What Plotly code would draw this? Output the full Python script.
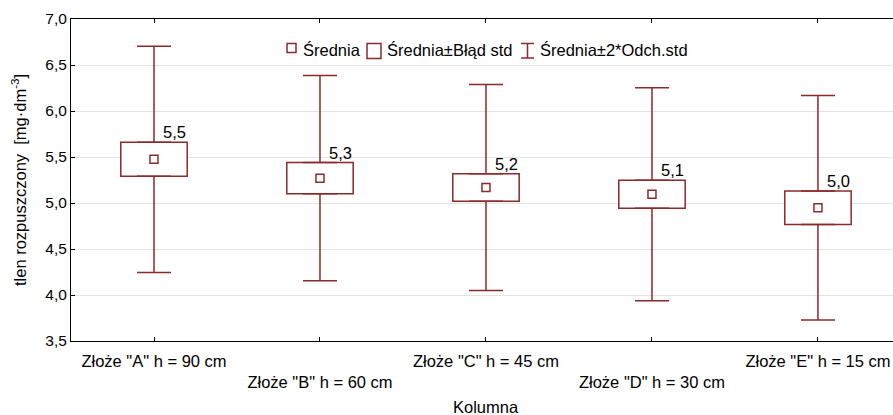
import plotly.graph_objects as go

# ---- data ----
categories = ['Złoże "A" h = 90 cm', 'Złoże "B" h = 60 cm', 'Złoże "C" h = 45 cm',
              'Złoże "D" h = 30 cm', 'Złoże "E" h = 15 cm']
means = [5.475, 5.27, 5.168, 5.095, 4.948]
std_err = [0.185, 0.17, 0.15, 0.152, 0.183]
std_dev = [0.615, 0.558, 0.56, 0.579, 0.61]
mean_labels = ["5,5", "5,3", "5,2", "5,1", "5,0"]
y_ticks = [3.5, 4.0, 4.5, 5.0, 5.5, 6.0, 6.5, 7.0]

C = "#8B2A2A"
FONT = "Liberation Sans, Arial, sans-serif"
FS = 16.5

xs = list(range(len(categories)))
box_lo = [m - s for m, s in zip(means, std_err)]
box_hi = [m + s for m, s in zip(means, std_err)]
whisk_ext = [2 * d - s for d, s in zip(std_dev, std_err)]

# alternate tick labels on two rows
tick_text = [t if i % 2 == 0 else "<br>" + t for i, t in enumerate(categories)]

fig = go.Figure()

fig.add_trace(go.Bar(
    x=xs, y=[2 * s for s in std_err], base=box_lo, width=0.4,
    marker=dict(color="white", line=dict(color=C, width=1.5)),
    showlegend=False, hoverinfo="skip"))

fig.add_trace(go.Scatter(
    x=xs, y=box_hi, mode="markers",
    marker=dict(size=1, color="rgba(0,0,0,0)"),
    error_y=dict(type="data", symmetric=False, array=whisk_ext,
                 arrayminus=[0] * len(xs), color=C, thickness=1.5, width=17),
    showlegend=False, hoverinfo="skip"))

fig.add_trace(go.Scatter(
    x=xs, y=box_lo, mode="markers",
    marker=dict(size=1, color="rgba(0,0,0,0)"),
    error_y=dict(type="data", symmetric=False, array=[0] * len(xs),
                 arrayminus=whisk_ext, color=C, thickness=1.5, width=17),
    showlegend=False, hoverinfo="skip"))

fig.add_trace(go.Scatter(
    x=xs, y=means, mode="markers",
    marker=dict(symbol="square-open", size=8, color=C, line=dict(width=1.5, color=C)),
    showlegend=False))

annotations = []
for x, yh, lab in zip(xs, box_hi, mean_labels):
    annotations.append(dict(x=x, y=yh, xref="x", yref="y", text=lab, showarrow=False,
                            xanchor="left", yanchor="bottom", xshift=7, yshift=-1,
                            font=dict(family=FONT, size=FS, color="black")))

# pixel -> paper helpers for legend/titles
L, R, T, B = 71, 893, 19, 341
def px(xp):
    return (xp - L) / (R - L)
def py(yp):
    return (B - yp) / (B - T)

shapes = []
# legend icons
shapes.append(dict(type="rect", xref="paper", yref="paper",
                   x0=px(287), x1=px(296), y0=py(52.5), y1=py(43.5),
                   line=dict(color=C, width=1.5), fillcolor="white"))
shapes.append(dict(type="rect", xref="paper", yref="paper",
                   x0=px(367), x1=px(381), y0=py(58.5), y1=py(43.5),
                   line=dict(color=C, width=1.5), fillcolor="white"))
shapes.append(dict(type="line", xref="paper", yref="paper",
                   x0=px(527.5), x1=px(527.5), y0=py(58), y1=py(43.5),
                   line=dict(color=C, width=1.5)))
shapes.append(dict(type="line", xref="paper", yref="paper",
                   x0=px(521), x1=px(534), y0=py(43.5), y1=py(43.5),
                   line=dict(color=C, width=1.5)))
shapes.append(dict(type="line", xref="paper", yref="paper",
                   x0=px(521), x1=px(534), y0=py(58), y1=py(58),
                   line=dict(color=C, width=1.5)))

for xp, txt in [(301, "Średnia"), (385, "Średnia±Błąd std"), (538, "Średnia±2*Odch.std")]:
    annotations.append(dict(x=px(xp), y=py(50), xref="paper", yref="paper", text=txt,
                            showarrow=False, xanchor="left", yanchor="middle",
                            font=dict(family=FONT, size=FS, color="black")))

# axis titles
annotations.append(dict(x=2, y=py(407), xref="x", yref="paper", text="Kolumna",
                        showarrow=False, xanchor="center", yanchor="middle",
                        font=dict(family=FONT, size=FS, color="black")))
annotations.append(dict(x=px(19), y=0.5, xref="paper", yref="paper",
                        text="tlen rozpuszczony  [mg·dm<sup>-3</sup>]", textangle=-90,
                        showarrow=False, xanchor="center", yanchor="middle",
                        font=dict(family=FONT, size=FS, color="black")))

fig.update_layout(
    width=893, height=415,
    margin=dict(l=71, r=0, t=19, b=74, pad=0, autoexpand=False),
    paper_bgcolor="white", plot_bgcolor="white",
    separators=", ",
    font=dict(family=FONT, size=FS, color="black"),
    showlegend=False,
    barmode="overlay",
    annotations=annotations, shapes=shapes,
    xaxis=dict(range=[-0.5, 4.452], tickmode="array", tickvals=xs, ticktext=tick_text,
               ticks="inside", ticklen=4, tickcolor="black", showline=True,
               linecolor="black", linewidth=1, mirror="ticks", showgrid=False,
               zeroline=False, automargin=False, ticklabelstandoff=5,
               tickfont=dict(family=FONT, size=FS, color="black")),
    yaxis=dict(range=[3.5, 7.0], tickmode="array", tickvals=y_ticks,
               ticktext=[f"{v:.1f}".replace(".", ",") for v in y_ticks],
               ticks="inside", ticklen=4, tickcolor="black", showline=True,
               linecolor="black", linewidth=1, mirror=False, showgrid=True,
               gridcolor="#e3e3e3", gridwidth=1, zeroline=False, automargin=False,
               tickfont=dict(family=FONT, size=15.5, color="black")),
)

fig.write_html("out.html", config={"displayModeBar": False},
               post_script="document.body.style.margin='0';document.body.style.overflow='hidden';")
